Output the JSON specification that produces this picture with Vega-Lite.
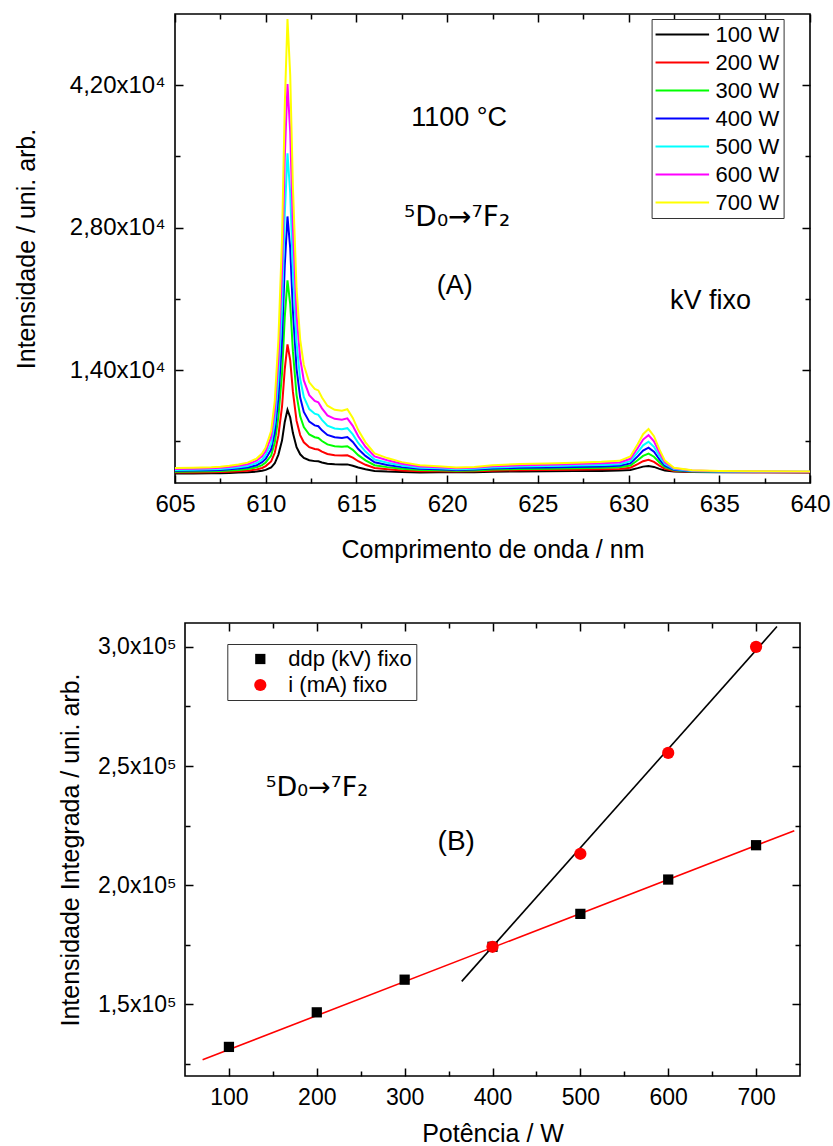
{
"$schema":"https://vega.github.io/schema/vega-lite/v6.json",
"background":"white",
"padding":{"left":13,"top":12,"right":5,"bottom":2},
"spacing":140,
"bounds":"flush",
"center":true,
"resolve":{"scale":{"color":"independent","shape":"independent","size":"independent"},"legend":{"color":"independent","shape":"independent"}},
"config":{
"font":"Liberation Sans",
"view":{"stroke":"black","strokeWidth":1.6},
"axis":{"domain":false,"grid":false,"tickColor":"black","tickWidth":1.5,"labelColor":"black","titleColor":"black","labelFont":"Liberation Sans","titleFont":"Liberation Sans","titleFontWeight":"normal","labelFlush":false,"labelOverlap":false},
"legend":{"labelFont":"Liberation Sans","labelColor":"black"},
"text":{"font":"Liberation Sans"}
},
"vconcat":[
{
"width":635,"height":469,
"layer":[
{
"data":{"values":[
{"w":605,"s":"100 W","v":3840},{"w":606,"s":"100 W","v":3840},{"w":607,"s":"100 W","v":3860},{"w":607.5,"s":"100 W","v":3870},{"w":608,"s":"100 W","v":3890},{"w":608.5,"s":"100 W","v":3920},{"w":609,"s":"100 W","v":3950},{"w":609.5,"s":"100 W","v":4020},{"w":609.8,"s":"100 W","v":4100},{"w":610,"s":"100 W","v":4190},{"w":610.3,"s":"100 W","v":4420},{"w":610.5,"s":"100 W","v":4840},{"w":610.7,"s":"100 W","v":5690},{"w":610.9,"s":"100 W","v":7090},{"w":611.05,"s":"100 W","v":8900},{"w":611.2,"s":"100 W","v":10100},{"w":611.35,"s":"100 W","v":9340},{"w":611.5,"s":"100 W","v":7810},{"w":611.7,"s":"100 W","v":6420},{"w":611.9,"s":"100 W","v":5720},{"w":612.1,"s":"100 W","v":5370},{"w":612.4,"s":"100 W","v":5140},{"w":612.7,"s":"100 W","v":5050},{"w":612.9,"s":"100 W","v":5030},{"w":613.1,"s":"100 W","v":4920},{"w":613.4,"s":"100 W","v":4800},{"w":613.8,"s":"100 W","v":4740},{"w":614.2,"s":"100 W","v":4710},{"w":614.5,"s":"100 W","v":4730},{"w":614.8,"s":"100 W","v":4600},{"w":615.1,"s":"100 W","v":4420},{"w":615.5,"s":"100 W","v":4250},{"w":616,"s":"100 W","v":4090},{"w":616.7,"s":"100 W","v":4020},{"w":617.5,"s":"100 W","v":3980},{"w":618.5,"s":"100 W","v":3940},{"w":619.5,"s":"100 W","v":3950},{"w":620.5,"s":"100 W","v":3950},{"w":621.5,"s":"100 W","v":3960},{"w":622.5,"s":"100 W","v":4000},{"w":624,"s":"100 W","v":4040},{"w":625.5,"s":"100 W","v":4050},{"w":627,"s":"100 W","v":4070},{"w":628.5,"s":"100 W","v":4090},{"w":629.5,"s":"100 W","v":4120},{"w":630.1,"s":"100 W","v":4180},{"w":630.5,"s":"100 W","v":4360},{"w":630.8,"s":"100 W","v":4510},{"w":631.1,"s":"100 W","v":4580},{"w":631.4,"s":"100 W","v":4480},{"w":631.7,"s":"100 W","v":4290},{"w":632,"s":"100 W","v":4130},{"w":632.5,"s":"100 W","v":4020},{"w":633.5,"s":"100 W","v":3980},{"w":635,"s":"100 W","v":3960},{"w":637,"s":"100 W","v":3950},{"w":640,"s":"100 W","v":3940},
{"w":605,"s":"200 W","v":3930},{"w":606,"s":"200 W","v":3930},{"w":607,"s":"200 W","v":3960},{"w":607.5,"s":"200 W","v":3980},{"w":608,"s":"200 W","v":4010},{"w":608.5,"s":"200 W","v":4050},{"w":609,"s":"200 W","v":4110},{"w":609.5,"s":"200 W","v":4230},{"w":609.8,"s":"200 W","v":4380},{"w":610,"s":"200 W","v":4560},{"w":610.3,"s":"200 W","v":5020},{"w":610.5,"s":"200 W","v":5870},{"w":610.7,"s":"200 W","v":7580},{"w":610.9,"s":"200 W","v":10420},{"w":611.05,"s":"200 W","v":14100},{"w":611.2,"s":"200 W","v":16520},{"w":611.35,"s":"200 W","v":14970},{"w":611.5,"s":"200 W","v":11850},{"w":611.7,"s":"200 W","v":9020},{"w":611.9,"s":"200 W","v":7610},{"w":612.1,"s":"200 W","v":6900},{"w":612.4,"s":"200 W","v":6420},{"w":612.7,"s":"200 W","v":6240},{"w":612.9,"s":"200 W","v":6190},{"w":613.1,"s":"200 W","v":5990},{"w":613.4,"s":"200 W","v":5750},{"w":613.8,"s":"200 W","v":5630},{"w":614.2,"s":"200 W","v":5600},{"w":614.5,"s":"200 W","v":5630},{"w":614.8,"s":"200 W","v":5390},{"w":615.1,"s":"200 W","v":5040},{"w":615.5,"s":"200 W","v":4690},{"w":616,"s":"200 W","v":4370},{"w":616.7,"s":"200 W","v":4250},{"w":617.5,"s":"200 W","v":4140},{"w":618.5,"s":"200 W","v":4060},{"w":619.5,"s":"200 W","v":4050},{"w":620.5,"s":"200 W","v":4030},{"w":621.5,"s":"200 W","v":4050},{"w":622.5,"s":"200 W","v":4110},{"w":624,"s":"200 W","v":4160},{"w":625.5,"s":"200 W","v":4180},{"w":627,"s":"200 W","v":4210},{"w":628.5,"s":"200 W","v":4240},{"w":629.5,"s":"200 W","v":4280},{"w":630.1,"s":"200 W","v":4400},{"w":630.5,"s":"200 W","v":4750},{"w":630.8,"s":"200 W","v":5040},{"w":631.1,"s":"200 W","v":5190},{"w":631.4,"s":"200 W","v":4980},{"w":631.7,"s":"200 W","v":4610},{"w":632,"s":"200 W","v":4290},{"w":632.5,"s":"200 W","v":4090},{"w":633.5,"s":"200 W","v":4010},{"w":635,"s":"200 W","v":3980},{"w":637,"s":"200 W","v":3960},{"w":640,"s":"200 W","v":3950},
{"w":605,"s":"300 W","v":4010},{"w":606,"s":"300 W","v":4030},{"w":607,"s":"300 W","v":4050},{"w":607.5,"s":"300 W","v":4080},{"w":608,"s":"300 W","v":4130},{"w":608.5,"s":"300 W","v":4180},{"w":609,"s":"300 W","v":4270},{"w":609.5,"s":"300 W","v":4440},{"w":609.8,"s":"300 W","v":4660},{"w":610,"s":"300 W","v":4920},{"w":610.3,"s":"300 W","v":5600},{"w":610.5,"s":"300 W","v":6880},{"w":610.7,"s":"300 W","v":9430},{"w":610.9,"s":"300 W","v":13680},{"w":611.05,"s":"300 W","v":19200},{"w":611.2,"s":"300 W","v":22810},{"w":611.35,"s":"300 W","v":20480},{"w":611.5,"s":"300 W","v":15810},{"w":611.7,"s":"300 W","v":11570},{"w":611.9,"s":"300 W","v":9450},{"w":612.1,"s":"300 W","v":8390},{"w":612.4,"s":"300 W","v":7670},{"w":612.7,"s":"300 W","v":7400},{"w":612.9,"s":"300 W","v":7330},{"w":613.1,"s":"300 W","v":7030},{"w":613.4,"s":"300 W","v":6690},{"w":613.8,"s":"300 W","v":6510},{"w":614.2,"s":"300 W","v":6460},{"w":614.5,"s":"300 W","v":6520},{"w":614.8,"s":"300 W","v":6160},{"w":615.1,"s":"300 W","v":5640},{"w":615.5,"s":"300 W","v":5130},{"w":616,"s":"300 W","v":4650},{"w":616.7,"s":"300 W","v":4460},{"w":617.5,"s":"300 W","v":4300},{"w":618.5,"s":"300 W","v":4180},{"w":619.5,"s":"300 W","v":4150},{"w":620.5,"s":"300 W","v":4110},{"w":621.5,"s":"300 W","v":4130},{"w":622.5,"s":"300 W","v":4220},{"w":624,"s":"300 W","v":4280},{"w":625.5,"s":"300 W","v":4310},{"w":627,"s":"300 W","v":4350},{"w":628.5,"s":"300 W","v":4390},{"w":629.5,"s":"300 W","v":4440},{"w":630.1,"s":"300 W","v":4620},{"w":630.5,"s":"300 W","v":5130},{"w":630.8,"s":"300 W","v":5560},{"w":631.1,"s":"300 W","v":5780},{"w":631.4,"s":"300 W","v":5480},{"w":631.7,"s":"300 W","v":4920},{"w":632,"s":"300 W","v":4450},{"w":632.5,"s":"300 W","v":4150},{"w":633.5,"s":"300 W","v":4040},{"w":635,"s":"300 W","v":4000},{"w":637,"s":"300 W","v":3980},{"w":640,"s":"300 W","v":3970},
{"w":605,"s":"400 W","v":4100},{"w":606,"s":"400 W","v":4120},{"w":607,"s":"400 W","v":4150},{"w":607.5,"s":"400 W","v":4180},{"w":608,"s":"400 W","v":4240},{"w":608.5,"s":"400 W","v":4320},{"w":609,"s":"400 W","v":4420},{"w":609.5,"s":"400 W","v":4650},{"w":609.8,"s":"400 W","v":4940},{"w":610,"s":"400 W","v":5280},{"w":610.3,"s":"400 W","v":6190},{"w":610.5,"s":"400 W","v":7890},{"w":610.7,"s":"400 W","v":11280},{"w":610.9,"s":"400 W","v":16940},{"w":611.05,"s":"400 W","v":24290},{"w":611.2,"s":"400 W","v":29100},{"w":611.35,"s":"400 W","v":25990},{"w":611.5,"s":"400 W","v":19780},{"w":611.7,"s":"400 W","v":14130},{"w":611.9,"s":"400 W","v":11300},{"w":612.1,"s":"400 W","v":9890},{"w":612.4,"s":"400 W","v":8930},{"w":612.7,"s":"400 W","v":8560},{"w":612.9,"s":"400 W","v":8480},{"w":613.1,"s":"400 W","v":8080},{"w":613.4,"s":"400 W","v":7620},{"w":613.8,"s":"400 W","v":7390},{"w":614.2,"s":"400 W","v":7330},{"w":614.5,"s":"400 W","v":7410},{"w":614.8,"s":"400 W","v":6930},{"w":615.1,"s":"400 W","v":6240},{"w":615.5,"s":"400 W","v":5560},{"w":616,"s":"400 W","v":4930},{"w":616.7,"s":"400 W","v":4680},{"w":617.5,"s":"400 W","v":4460},{"w":618.5,"s":"400 W","v":4290},{"w":619.5,"s":"400 W","v":4250},{"w":620.5,"s":"400 W","v":4190},{"w":621.5,"s":"400 W","v":4220},{"w":622.5,"s":"400 W","v":4320},{"w":624,"s":"400 W","v":4390},{"w":625.5,"s":"400 W","v":4430},{"w":627,"s":"400 W","v":4480},{"w":628.5,"s":"400 W","v":4530},{"w":629.5,"s":"400 W","v":4590},{"w":630.1,"s":"400 W","v":4830},{"w":630.5,"s":"400 W","v":5520},{"w":630.8,"s":"400 W","v":6090},{"w":631.1,"s":"400 W","v":6370},{"w":631.4,"s":"400 W","v":5970},{"w":631.7,"s":"400 W","v":5230},{"w":632,"s":"400 W","v":4610},{"w":632.5,"s":"400 W","v":4210},{"w":633.5,"s":"400 W","v":4060},{"w":635,"s":"400 W","v":4020},{"w":637,"s":"400 W","v":4000},{"w":640,"s":"400 W","v":3980},
{"w":605,"s":"500 W","v":4190},{"w":606,"s":"500 W","v":4210},{"w":607,"s":"500 W","v":4250},{"w":607.5,"s":"500 W","v":4280},{"w":608,"s":"500 W","v":4360},{"w":608.5,"s":"500 W","v":4450},{"w":609,"s":"500 W","v":4570},{"w":609.5,"s":"500 W","v":4860},{"w":609.8,"s":"500 W","v":5210},{"w":610,"s":"500 W","v":5640},{"w":610.3,"s":"500 W","v":6770},{"w":610.5,"s":"500 W","v":8880},{"w":610.7,"s":"500 W","v":13110},{"w":610.9,"s":"500 W","v":20150},{"w":611.05,"s":"500 W","v":29310},{"w":611.2,"s":"500 W","v":35300},{"w":611.35,"s":"500 W","v":31430},{"w":611.5,"s":"500 W","v":23680},{"w":611.7,"s":"500 W","v":16640},{"w":611.9,"s":"500 W","v":13120},{"w":612.1,"s":"500 W","v":11360},{"w":612.4,"s":"500 W","v":10170},{"w":612.7,"s":"500 W","v":9710},{"w":612.9,"s":"500 W","v":9600},{"w":613.1,"s":"500 W","v":9110},{"w":613.4,"s":"500 W","v":8540},{"w":613.8,"s":"500 W","v":8260},{"w":614.2,"s":"500 W","v":8180},{"w":614.5,"s":"500 W","v":8290},{"w":614.8,"s":"500 W","v":7680},{"w":615.1,"s":"500 W","v":6840},{"w":615.5,"s":"500 W","v":5990},{"w":616,"s":"500 W","v":5210},{"w":616.7,"s":"500 W","v":4890},{"w":617.5,"s":"500 W","v":4620},{"w":618.5,"s":"500 W","v":4410},{"w":619.5,"s":"500 W","v":4340},{"w":620.5,"s":"500 W","v":4260},{"w":621.5,"s":"500 W","v":4300},{"w":622.5,"s":"500 W","v":4430},{"w":624,"s":"500 W","v":4510},{"w":625.5,"s":"500 W","v":4560},{"w":627,"s":"500 W","v":4620},{"w":628.5,"s":"500 W","v":4680},{"w":629.5,"s":"500 W","v":4750},{"w":630.1,"s":"500 W","v":5050},{"w":630.5,"s":"500 W","v":5900},{"w":630.8,"s":"500 W","v":6600},{"w":631.1,"s":"500 W","v":6960},{"w":631.4,"s":"500 W","v":6460},{"w":631.7,"s":"500 W","v":5540},{"w":632,"s":"500 W","v":4770},{"w":632.5,"s":"500 W","v":4270},{"w":633.5,"s":"500 W","v":4090},{"w":635,"s":"500 W","v":4040},{"w":637,"s":"500 W","v":4010},{"w":640,"s":"500 W","v":4000},
{"w":605,"s":"600 W","v":4280},{"w":606,"s":"600 W","v":4310},{"w":607,"s":"600 W","v":4350},{"w":607.5,"s":"600 W","v":4400},{"w":608,"s":"600 W","v":4480},{"w":608.5,"s":"600 W","v":4590},{"w":609,"s":"600 W","v":4740},{"w":609.5,"s":"600 W","v":5090},{"w":609.8,"s":"600 W","v":5520},{"w":610,"s":"600 W","v":6030},{"w":610.3,"s":"600 W","v":7410},{"w":610.5,"s":"600 W","v":9980},{"w":610.7,"s":"600 W","v":15120},{"w":610.9,"s":"600 W","v":23690},{"w":611.05,"s":"600 W","v":34840},{"w":611.2,"s":"600 W","v":42120},{"w":611.35,"s":"600 W","v":37410},{"w":611.5,"s":"600 W","v":27980},{"w":611.7,"s":"600 W","v":19410},{"w":611.9,"s":"600 W","v":15130},{"w":612.1,"s":"600 W","v":12980},{"w":612.4,"s":"600 W","v":11530},{"w":612.7,"s":"600 W","v":10970},{"w":612.9,"s":"600 W","v":10840},{"w":613.1,"s":"600 W","v":10240},{"w":613.4,"s":"600 W","v":9550},{"w":613.8,"s":"600 W","v":9210},{"w":614.2,"s":"600 W","v":9120},{"w":614.5,"s":"600 W","v":9250},{"w":614.8,"s":"600 W","v":8520},{"w":615.1,"s":"600 W","v":7490},{"w":615.5,"s":"600 W","v":6460},{"w":616,"s":"600 W","v":5520},{"w":616.7,"s":"600 W","v":5130},{"w":617.5,"s":"600 W","v":4790},{"w":618.5,"s":"600 W","v":4530},{"w":619.5,"s":"600 W","v":4450},{"w":620.5,"s":"600 W","v":4350},{"w":621.5,"s":"600 W","v":4390},{"w":622.5,"s":"600 W","v":4540},{"w":624,"s":"600 W","v":4640},{"w":625.5,"s":"600 W","v":4690},{"w":627,"s":"600 W","v":4760},{"w":628.5,"s":"600 W","v":4830},{"w":629.5,"s":"600 W","v":4920},{"w":630.1,"s":"600 W","v":5280},{"w":630.5,"s":"600 W","v":6310},{"w":630.8,"s":"600 W","v":7170},{"w":631.1,"s":"600 W","v":7600},{"w":631.4,"s":"600 W","v":7000},{"w":631.7,"s":"600 W","v":5880},{"w":632,"s":"600 W","v":4940},{"w":632.5,"s":"600 W","v":4340},{"w":633.5,"s":"600 W","v":4120},{"w":635,"s":"600 W","v":4060},{"w":637,"s":"600 W","v":4030},{"w":640,"s":"600 W","v":4010},
{"w":605,"s":"700 W","v":4370},{"w":606,"s":"700 W","v":4400},{"w":607,"s":"700 W","v":4450},{"w":607.5,"s":"700 W","v":4500},{"w":608,"s":"700 W","v":4600},{"w":608.5,"s":"700 W","v":4720},{"w":609,"s":"700 W","v":4900},{"w":609.5,"s":"700 W","v":5300},{"w":609.8,"s":"700 W","v":5800},{"w":610,"s":"700 W","v":6400},{"w":610.3,"s":"700 W","v":8000},{"w":610.5,"s":"700 W","v":11000},{"w":610.7,"s":"700 W","v":17000},{"w":610.9,"s":"700 W","v":27000},{"w":611.05,"s":"700 W","v":40000},{"w":611.2,"s":"700 W","v":48500},{"w":611.35,"s":"700 W","v":43000},{"w":611.5,"s":"700 W","v":32000},{"w":611.7,"s":"700 W","v":22000},{"w":611.9,"s":"700 W","v":17000},{"w":612.1,"s":"700 W","v":14500},{"w":612.4,"s":"700 W","v":12800},{"w":612.7,"s":"700 W","v":12150},{"w":612.9,"s":"700 W","v":12000},{"w":613.1,"s":"700 W","v":11300},{"w":613.4,"s":"700 W","v":10500},{"w":613.8,"s":"700 W","v":10100},{"w":614.2,"s":"700 W","v":10000},{"w":614.5,"s":"700 W","v":10150},{"w":614.8,"s":"700 W","v":9300},{"w":615.1,"s":"700 W","v":8100},{"w":615.5,"s":"700 W","v":6900},{"w":616,"s":"700 W","v":5800},{"w":616.7,"s":"700 W","v":5350},{"w":617.5,"s":"700 W","v":4950},{"w":618.5,"s":"700 W","v":4650},{"w":619.5,"s":"700 W","v":4550},{"w":620.5,"s":"700 W","v":4430},{"w":621.5,"s":"700 W","v":4480},{"w":622.5,"s":"700 W","v":4650},{"w":624,"s":"700 W","v":4760},{"w":625.5,"s":"700 W","v":4820},{"w":627,"s":"700 W","v":4900},{"w":628.5,"s":"700 W","v":4980},{"w":629.5,"s":"700 W","v":5080},{"w":630.1,"s":"700 W","v":5500},{"w":630.5,"s":"700 W","v":6700},{"w":630.8,"s":"700 W","v":7700},{"w":631.1,"s":"700 W","v":8200},{"w":631.4,"s":"700 W","v":7500},{"w":631.7,"s":"700 W","v":6200},{"w":632,"s":"700 W","v":5100},{"w":632.5,"s":"700 W","v":4400},{"w":633.5,"s":"700 W","v":4150},{"w":635,"s":"700 W","v":4080},{"w":637,"s":"700 W","v":4050},{"w":640,"s":"700 W","v":4030}
]},
"mark":{"type":"line","strokeWidth":2,"clip":true},
"encoding":{
"x":{"field":"w","type":"quantitative","scale":{"domain":[605,640],"nice":false,"zero":false},
"axis":{"orient":"bottom","values":[605,607.5,610,612.5,615,617.5,620,622.5,625,627.5,630,632.5,635,637.5,640],"labelExpr":"datum.value % 5 == 0 ? format(datum.value,'d') : ''","tickSize":{"condition":{"test":"datum.value % 5 == 0","value":-8},"value":-5},"labelPadding":17,"labelFontSize":24,"title":"Comprimento de onda / nm","titleFontSize":25,"titlePadding":18}},
"y":{"field":"v","type":"quantitative","scale":{"domain":[2900,49000],"nice":false,"zero":false},
"axis":{"orient":"left","values":[7000,14000,21000,28000,35000,42000],"labelExpr":"datum.value % 14000 == 0 ? replace(format(datum.value/10000,'.2f'),'.',',') + 'x10⁴' : ''","tickSize":{"condition":{"test":"datum.value % 14000 == 0","value":-8},"value":-5},"labelPadding":18,"labelFontSize":24,"title":"Intensidade / uni. arb.","titleFontSize":25,"titlePadding":30}},
"color":{"field":"s","type":"nominal","scale":{"domain":["100 W","200 W","300 W","400 W","500 W","600 W","700 W"],"range":["#000000","#FF0000","#00FF00","#0000FF","#00FFFF","#FF00FF","#FFFF00"]},
"legend":{"title":null,"orient":"none","legendX":476.6,"legendY":5,"symbolType":"M-1.1,0H4","symbolSize":441,"symbolStrokeWidth":2,"labelFontSize":22,"strokeColor":"#333333","fillColor":"white","padding":4,"rowPadding":5,"labelOffset":37}}
}
},
{
"data":{"values":[
{"x":620.66,"y":38000,"t":"1100 °C"},
{"x":620.42,"y":21480,"t":"(A)"},
{"x":634.51,"y":20010,"t":"kV fixo"}
]},
"mark":{"type":"text","fontSize":27,"align":"center","baseline":"alphabetic","color":"black"},
"encoding":{
"x":{"field":"x","type":"quantitative","scale":{"domain":[605,640],"nice":false,"zero":false},
"axis":{"orient":"top","values":[605,607.5,610,612.5,615,617.5,620,622.5,625,627.5,630,632.5,635,637.5,640],"labels":false,"title":null,"tickSize":{"condition":{"test":"datum.value % 5 == 0","value":-8},"value":-5}}},
"y":{"field":"y","type":"quantitative","scale":{"domain":[2900,49000],"nice":false,"zero":false},
"axis":{"orient":"right","values":[7000,14000,21000,28000,35000,42000],"labels":false,"title":null,"tickSize":{"condition":{"test":"datum.value % 14000 == 0","value":-8},"value":-5}}},
"text":{"field":"t","type":"nominal"}
}
},
{
"data":{"values":[
{"x":620.55,"y":28170,"t":"⁵D₀→⁷F₂"}
]},
"mark":{"type":"text","font":"DejaVu Sans","fontSize":28,"align":"center","baseline":"alphabetic","color":"black"},
"encoding":{
"x":{"field":"x","type":"quantitative","scale":{"domain":[605,640],"nice":false,"zero":false},"axis":null},
"y":{"field":"y","type":"quantitative","scale":{"domain":[2900,49000],"nice":false,"zero":false},"axis":null},
"text":{"field":"t","type":"nominal"}
}
}
],
"resolve":{"axis":{"x":"independent","y":"independent"}}
},
{
"width":615,"height":453,
"layer":[
{
"data":{"values":[{"p":70,"v":126800},{"p":743.5,"v":222900}]},
"mark":{"type":"line","color":"#FF0000","strokeWidth":1.6,"clip":true},
"encoding":{
"x":{"field":"p","type":"quantitative","scale":{"domain":[50,750],"nice":false,"zero":false},"axis":null},
"y":{"field":"v","type":"quantitative","scale":{"domain":[120000,310000],"nice":false,"zero":false},"axis":null}
}
},
{
"data":{"values":[{"p":365,"v":159700},{"p":723.8,"v":308500}]},
"mark":{"type":"line","color":"#000000","strokeWidth":1.6,"clip":true},
"encoding":{
"x":{"field":"p","type":"quantitative","scale":{"domain":[50,750],"nice":false,"zero":false},"axis":null},
"y":{"field":"v","type":"quantitative","scale":{"domain":[120000,310000],"nice":false,"zero":false},"axis":null}
}
},
{
"data":{"values":[
{"p":100,"v":132200,"s":"ddp (kV) fixo"},{"p":200,"v":146700,"s":"ddp (kV) fixo"},{"p":300,"v":160400,"s":"ddp (kV) fixo"},{"p":400,"v":174200,"s":"ddp (kV) fixo"},{"p":500,"v":188000,"s":"ddp (kV) fixo"},{"p":600,"v":202400,"s":"ddp (kV) fixo"},{"p":700,"v":216800,"s":"ddp (kV) fixo"},
{"p":400,"v":174200,"s":"i (mA) fixo"},{"p":500,"v":213200,"s":"i (mA) fixo"},{"p":600,"v":255500,"s":"i (mA) fixo"},{"p":700,"v":300000,"s":"i (mA) fixo"}
]},
"mark":{"type":"point","filled":true,"opacity":1},
"encoding":{
"x":{"field":"p","type":"quantitative","scale":{"domain":[50,750],"nice":false,"zero":false},
"axis":{"orient":"bottom","values":[100,150,200,250,300,350,400,450,500,550,600,650,700],"labelExpr":"datum.value % 100 == 0 ? format(datum.value,'d') : ''","tickSize":{"condition":{"test":"datum.value % 100 == 0","value":-8},"value":-5},"labelPadding":18,"labelFontSize":23,"title":"Potência / W","titleFontSize":25,"titlePadding":9}},
"y":{"field":"v","type":"quantitative","scale":{"domain":[120000,310000],"nice":false,"zero":false},
"axis":{"orient":"left","values":[125000,150000,175000,200000,225000,250000,275000,300000],"labelExpr":"datum.value % 50000 == 0 ? replace(format(datum.value/100000,'.1f'),'.',',') + 'x10⁵' : ''","tickSize":{"condition":{"test":"datum.value % 50000 == 0","value":-8},"value":-5},"labelPadding":17,"labelFontSize":23,"title":"Intensidade Integrada / uni. arb.","titleFontSize":25,"titlePadding":14}},
"size":{"field":"s","type":"nominal","scale":{"domain":["ddp (kV) fixo","i (mA) fixo"],"range":[105,150]},"legend":null},
"color":{"field":"s","type":"nominal","scale":{"domain":["ddp (kV) fixo","i (mA) fixo"],"range":["#000000","#FF0000"]},
"legend":{"title":null,"orient":"none","legendX":42.3,"legendY":21,"labelFontSize":22,"strokeColor":"#333333","fillColor":"white","padding":4,"symbolOffset":18,"labelOffset":17,"rowPadding":4,"symbolSize":110,"symbolStrokeWidth":0}},
"shape":{"field":"s","type":"nominal","scale":{"domain":["ddp (kV) fixo","i (mA) fixo"],"range":["square","circle"]},
"legend":{"title":null,"orient":"none","legendX":42.3,"legendY":21,"labelFontSize":22,"strokeColor":"#333333","fillColor":"white","padding":4,"symbolOffset":18,"labelOffset":17,"rowPadding":4,"symbolSize":110,"symbolStrokeWidth":0}}
}
},
{
"data":{"values":[
{"x":358.7,"y":214900,"t":"(B)"}
]},
"mark":{"type":"text","fontSize":28,"align":"center","baseline":"alphabetic","color":"black"},
"encoding":{
"x":{"field":"x","type":"quantitative","scale":{"domain":[50,750],"nice":false,"zero":false},
"axis":{"orient":"top","values":[100,150,200,250,300,350,400,450,500,550,600,650,700],"labels":false,"title":null,"tickSize":{"condition":{"test":"datum.value % 100 == 0","value":-8},"value":-5}}},
"y":{"field":"y","type":"quantitative","scale":{"domain":[120000,310000],"nice":false,"zero":false},
"axis":{"orient":"right","values":[125000,150000,175000,200000,225000,250000,275000,300000],"labels":false,"title":null,"tickSize":{"condition":{"test":"datum.value % 50000 == 0","value":-8},"value":-5}}},
"text":{"field":"t","type":"nominal"}
}
},
{
"data":{"values":[
{"x":200.1,"y":237500,"t":"⁵D₀→⁷F₂"}
]},
"mark":{"type":"text","font":"DejaVu Sans","fontSize":27,"align":"center","baseline":"alphabetic","color":"black"},
"encoding":{
"x":{"field":"x","type":"quantitative","scale":{"domain":[50,750],"nice":false,"zero":false},"axis":null},
"y":{"field":"y","type":"quantitative","scale":{"domain":[120000,310000],"nice":false,"zero":false},"axis":null},
"text":{"field":"t","type":"nominal"}
}
}
],
"resolve":{"axis":{"x":"independent","y":"independent"}}
}
]
}
